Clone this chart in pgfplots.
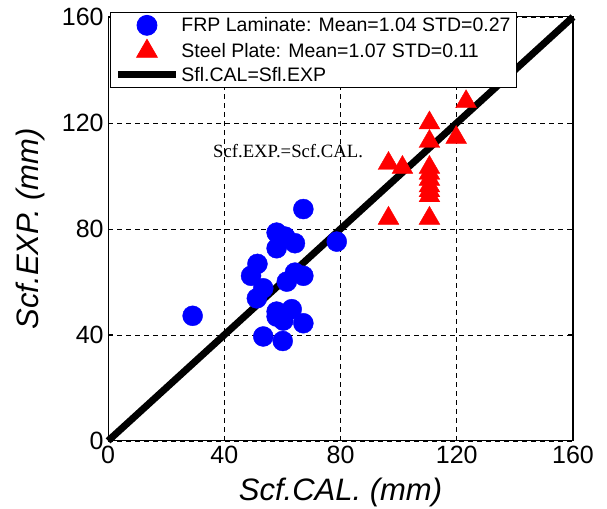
\documentclass[border=0pt]{standalone}
\usepackage{fontspec}
\setmainfont{Liberation Sans}
\newfontfamily\timesfont{Liberation Serif}
\usepackage{pgfplots}
\pgfplotsset{compat=1.18}
\begin{document}
\begin{tikzpicture}
\begin{axis}[
  scale only axis,
  width=465pt, height=424pt,
  xmin=0, xmax=160, ymin=0, ymax=160,
  xtick={0,40,80,120,160}, ytick={0,40,80,120,160},
  /pgf/number format/assume math mode=true,
  ticklabel style={font=\fontsize{25}{28}\selectfont},
  xticklabel style={yshift=-2pt},
  yticklabel style={xshift=-1pt},
  tick align=inside,
  major tick length=5pt,
  tick style={black, line width=0.8pt},
  axis line style={black, line width=1.1pt},
  grid=major,
  major grid style={black, dash pattern=on 5pt off 4pt, line width=0.7pt},
  xlabel={\itshape Scf.CAL. (mm)},
  ylabel={\itshape Scf.EXP. (mm)},
  label style={font=\fontsize{31}{34}\selectfont},
  xlabel style={at={(axis description cs:0.5,0)}, anchor=base, yshift=-60pt},
  ylabel style={at={(axis description cs:-0.1505,0.5)}, anchor=base},
  clip=false,
  legend style={at={(rel axis cs:0.0043,1.0118)}, anchor=north west,
    draw=black, line width=0.8pt, fill=white,
    font=\fontsize{19.5}{23}\selectfont,
    inner xsep=4pt, inner ysep=3pt,
    row sep=4pt,
    /tikz/every even column/.append style={column sep=12pt},
    legend image code/.code={\draw[mark repeat=2,mark phase=2,#1] plot coordinates {(0pt,0pt) (29pt,0pt) (58pt,0pt)};}},
  legend cell align=left,
]
\addplot[only marks, mark=*, mark size=10pt, mark options={fill=blue, draw=blue}] coordinates {
(67.2,87.5) (58.0,78.6) (60.9,77.1) (64.3,74.6) (58.0,72.7) (78.7,75.2)
(51.4,66.8) (49.2,62.3) (64.3,63.5) (67.2,62.3) (61.5,60.1) (53.4,57.6)
(51.2,53.8) (29.1,47.2) (58.0,48.8) (63.2,49.7) (58.0,46.9) (60.3,45.4)
(67.2,44.4) (53.4,39.4) (60.1,37.7)
};
\addlegendentry{FRP Laminate: Mean=1.04 STD=0.27}
\addplot[only marks, mark=triangle*, mark size=12pt, mark options={fill=red, draw=red}] coordinates {
(123.2,128) (110.6,120) (110.6,113) (119.8,114.5) (96.5,104.7) (101.3,103.2)
(110.6,103.2) (110.6,101) (110.6,98.7) (110.6,96.2) (110.6,94.4) (110.6,92.5)
(96.5,84) (110.6,84)
};
\addlegendentry{Steel Plate: Mean=1.07 STD=0.11}
\addplot[black, line width=7pt] coordinates {(0,0) (160,160)};
\addlegendentry{Sfl.CAL=Sfl.EXP}
\node[anchor=base west, inner sep=0pt, font=\timesfont\fontsize{18.7}{21}\selectfont] at (axis cs:36.1,106.8) {Scf.EXP.=Scf.CAL.};
\coordinate (bl) at (axis cs:-37.2,-25.7);
\coordinate (tr) at (axis cs:171.7,166.4);
\end{axis}
\pgfresetboundingbox
\path[use as bounding box] (bl) rectangle (tr);
\end{tikzpicture}
\end{document}
